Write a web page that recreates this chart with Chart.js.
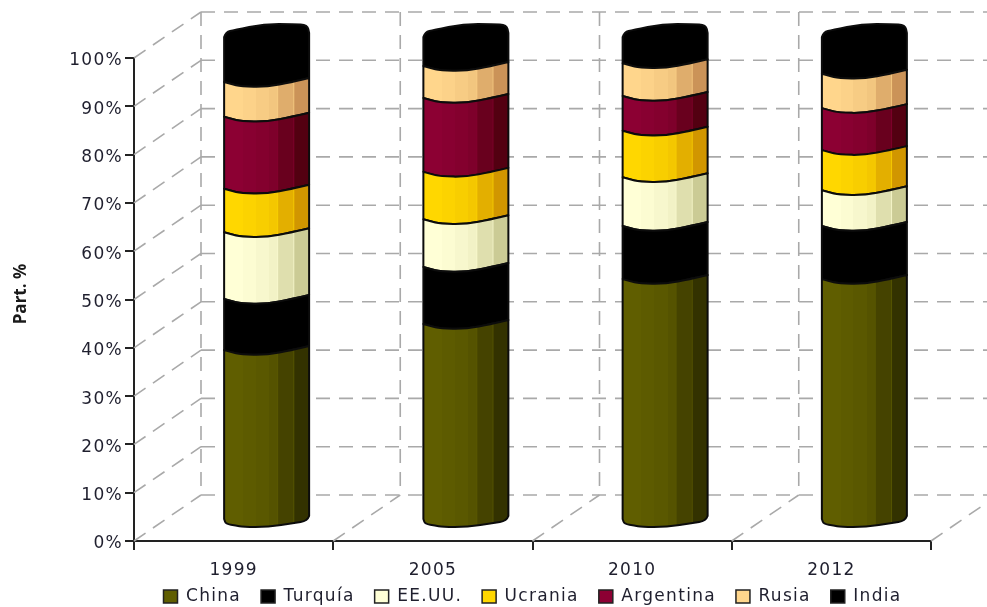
<!DOCTYPE html>
<html>
<head>
<meta charset="utf-8">
<script src="https://cdn.jsdelivr.net/npm/chart.js@4"></script>
<style>
    html, body { margin: 0; padding: 0; background: #fff; }
    canvas { display: block; }
</style>
</head>
<body>
<canvas id="doThiCot" width="987" height="607"></canvas>
<script>
// Datos: participacion por pais, en %
var _years = ['1999', '2005', '2010', '2012'];
var _china = [35.8, 41.2, 50.5, 50.5];
var _turquia = [10.6, 11.8, 11.0, 11.0];
var _eeuu = [13.8, 9.9, 10.1, 7.4];
var _ucrania = [9.0, 9.8, 9.6, 8.3];
var _argentina = [14.9, 15.3, 7.2, 8.7];
var _rusia = [7.2, 6.6, 6.8, 7.1];
var _india = [8.7, 5.4, 4.8, 7.0];
var _yTicks = [0, 10, 20, 30, 40, 50, 60, 70, 80, 90, 100];

// Colores de cada serie: cara iluminada y cara en sombra
var _seriesNames = ['China', 'Turquía', 'EE.UU.', 'Ucrania', 'Argentina', 'Rusia', 'India'];
var _seriesValues = [_china, _turquia, _eeuu, _ucrania, _argentina, _rusia, _india];
var _lightColors = ['#605e00', '#000000', '#ffffd6', '#ffd700', '#8c0033', '#ffd68c', '#000000'];
var _darkColors = ['#2e2d00', '#000000', '#c5c58e', '#cc8f00', '#4d000d', '#c58b52', '#000000'];

// Desplazamiento de la pared del fondo y de las barras
var DEPTH_X = 67;
var DEPTH_Y = -46;
var BAR_DX = 33;
var BAR_DY = -13;
var LETTER_SPACING = '1.3px';

// Facetas verticales del cilindro: [inicio, mezcla hacia el color oscuro]
var FACETS = [[0, 0], [0.22, 0.06], [0.37, 0.13], [0.53, 0.22], [0.63, 0.55], [0.82, 0.9]];
var HIGHLIGHTS = [0.63, 0.82];
// Contornos del cilindro: [fraccion del ancho, desplazamiento en y]
var EDGE_MID = [[0, -5], [0.08, -3], [0.2, -0.5], [0.5, 0], [0.8, -5], [1, -9]];
var EDGE_BOTTOM = [[0, -8], [0.02, -3], [0.14, -1.5], [0.22, 0], [0.52, 0], [0.82, -4], [0.98, -6], [1, -11]];
var EDGE_TOP = [[0, -8], [0.02, -13], [0.12, -15], [0.47, -21], [0.82, -21], [0.98, -20], [1, -12]];

function hexToRgb(hex) {
    return [parseInt(hex.substr(1, 2), 16), parseInt(hex.substr(3, 2), 16), parseInt(hex.substr(5, 2), 16)];
}
function mixColor(a, b, t) {
    var c1 = hexToRgb(a);
    var c2 = hexToRgb(b);
    var r = [0, 1, 2].map(function (i) { return Math.round(c1[i] + (c2[i] - c1[i]) * t); });
    return 'rgb(' + r.join(',') + ')';
}

// Cuadricula punteada: pared del fondo, pared izquierda y piso
function drawWalls(chart) {
    var ctx = chart.ctx;
    var xs = chart.scales.x;
    var ys = chart.scales.y;
    var step = xs.width / _years.length;
    var yTop = ys.getPixelForValue(100) + DEPTH_Y;
    var yBottom = ys.getPixelForValue(0) + DEPTH_Y;
    ctx.save();
    ctx.strokeStyle = '#a9a9a9';
    ctx.lineWidth = 1.6;
    ctx.setLineDash([14, 9]);
    function line(x1, y1, x2, y2) {
        ctx.beginPath();
        ctx.moveTo(x1, y1);
        ctx.lineTo(x2, y2);
        ctx.stroke();
    }
    _yTicks.forEach(function (t) {
        var y = ys.getPixelForValue(t);
        line(xs.left, y, xs.left + DEPTH_X, y + DEPTH_Y);
        line(xs.left + DEPTH_X, y + DEPTH_Y, chart.width, y + DEPTH_Y);
    });
    for (var i = 0; i <= _years.length; i++) {
        var x = xs.left + i * step;
        if (i > 0) {
            line(x, ys.bottom, x + DEPTH_X, ys.bottom + DEPTH_Y);
        }
        if (i < _years.length) {
            line(x + DEPTH_X, yTop, x + DEPTH_X, yBottom);
        }
    }
    ctx.restore();
}

// Contorno suavizado con los puntos medios de cada tramo
function traceEdge(path, x, width, y, edge, reverse) {
    var pts = (reverse ? edge.slice().reverse() : edge).map(function (p) {
        return [x + p[0] * width, y + p[1]];
    });
    path.lineTo(pts[0][0], pts[0][1]);
    for (var i = 1; i < pts.length - 1; i++) {
        var next = pts[i + 1];
        path.quadraticCurveTo(pts[i][0], pts[i][1], (pts[i][0] + next[0]) / 2, (pts[i][1] + next[1]) / 2);
    }
    path.lineTo(pts[pts.length - 1][0], pts[pts.length - 1][1]);
}

// Un tramo del cilindro a partir de la barra ya calculada por Chart.js
function drawCylinderPiece(ctx, bar, datasetIndex) {
    var width = bar.width;
    var x = bar.x - width / 2 + BAR_DX;
    var top = bar.y + BAR_DY;
    var bottom = bar.base + BAR_DY;
    var upper = datasetIndex === _seriesNames.length - 1 ? EDGE_TOP : EDGE_MID;
    var lower = datasetIndex === 0 ? EDGE_BOTTOM : EDGE_MID;
    var light = _lightColors[datasetIndex];
    var dark = _darkColors[datasetIndex];

    var outline = new Path2D();
    traceEdge(outline, x, width, top, upper, false);
    traceEdge(outline, x, width, bottom, lower, true);
    outline.closePath();

    ctx.save();
    var grad = ctx.createLinearGradient(x, 0, x + width, 0);
    FACETS.forEach(function (f, i) {
        var color = mixColor(light, dark, f[1]);
        var end = i + 1 < FACETS.length ? FACETS[i + 1][0] : 1;
        grad.addColorStop(f[0], color);
        grad.addColorStop(end, color);
    });
    ctx.fillStyle = grad;
    ctx.fill(outline);

    // Reflejos verticales de la cara en sombra
    ctx.save();
    ctx.clip(outline);
    ctx.strokeStyle = mixColor(light, dark, 0.1);
    ctx.globalAlpha = 0.75;
    ctx.lineWidth = 1;
    HIGHLIGHTS.forEach(function (h) {
        ctx.beginPath();
        ctx.moveTo(x + h * width, top - 30);
        ctx.lineTo(x + h * width, bottom + 10);
        ctx.stroke();
    });
    ctx.restore();

    ctx.lineJoin = 'round';
    ctx.lineWidth = 2;
    ctx.strokeStyle = '#0c0c0c';
    ctx.stroke(outline);
    ctx.restore();
}

var cylinderPlugin = {
    id: 'cylinderPlugin',
    beforeLayout: function (chart) {
        chart.ctx.letterSpacing = LETTER_SPACING;
    },
    afterLayout: function (chart) {
        // La leyenda queda justo debajo de las etiquetas del eje x
        chart.legend.top -= 10;
    },
    beforeDraw: function (chart) {
        chart.ctx.letterSpacing = LETTER_SPACING;
    },
    beforeDatasetsDraw: function (chart) {
        drawWalls(chart);
    },
    beforeDatasetDraw: function (chart, args) {
        args.meta.data.forEach(function (bar) {
            drawCylinderPiece(chart.ctx, bar, args.index);
        });
        return false;
    },
    afterDraw: function (chart) {
        // Titulo del eje y
        var ctx = chart.ctx;
        ctx.save();
        ctx.letterSpacing = '0px';
        ctx.translate(21, 294);
        ctx.rotate(-Math.PI / 2);
        ctx.font = 'bold 17px "Open Sans"';
        ctx.fillStyle = '#1a1a1a';
        ctx.textAlign = 'center';
        ctx.textBaseline = 'middle';
        ctx.fillText('Part. %', 0, 0);
        ctx.restore();
    }
};

function renderDoThi() {
    var ctx = document.getElementById('doThiCot').getContext('2d');
    var datasets = _seriesNames.map(function (name, i) {
        return {
            label: name,
            data: _seriesValues[i],
            backgroundColor: _lightColors[i],
            borderColor: '#222222',
            borderWidth: 1.5,
            barThickness: 85
        };
    });
    var tickFont = { family: '"DejaVu Sans"', size: 17 };
    new Chart(ctx, {
        type: 'bar',
        data: { labels: _years, datasets: datasets },
        plugins: [cylinderPlugin],
        options: {
            responsive: false,
            animation: false,
            devicePixelRatio: 1,
            layout: { padding: { left: 0, right: 56, top: 58, bottom: -18 } },
            plugins: {
                tooltip: { enabled: false },
                legend: {
                    position: 'bottom',
                    fullSize: false,
                    labels: {
                        boxWidth: 14,
                        boxHeight: 13,
                        padding: 20,
                        color: '#1f1f2e',
                        font: tickFont
                    }
                }
            },
            scales: {
                x: {
                    stacked: true,
                    afterFit: function (scale) { scale.height = 37; },
                    border: { color: '#222222', width: 2 },
                    grid: { drawOnChartArea: false, offset: true, tickLength: 9, color: '#222222', lineWidth: 2 },
                    ticks: { color: '#1f1f2e', font: tickFont, padding: 10, maxRotation: 0 }
                },
                y: {
                    stacked: true,
                    min: 0,
                    max: 100,
                    afterFit: function (scale) { scale.width = 134; },
                    afterBuildTicks: function (scale) {
                        scale.ticks = _yTicks.map(function (v) { return { value: v }; });
                    },
                    border: { color: '#222222', width: 2 },
                    grid: { drawOnChartArea: false, tickLength: 9, color: '#222222', lineWidth: 2 },
                    ticks: {
                        color: '#1f1f2e',
                        font: tickFont,
                        padding: 2,
                        labelOffset: 3,
                        callback: function (value) { return value + '%'; }
                    }
                }
            }
        }
    });
}
renderDoThi();
</script>
</body>
</html>
